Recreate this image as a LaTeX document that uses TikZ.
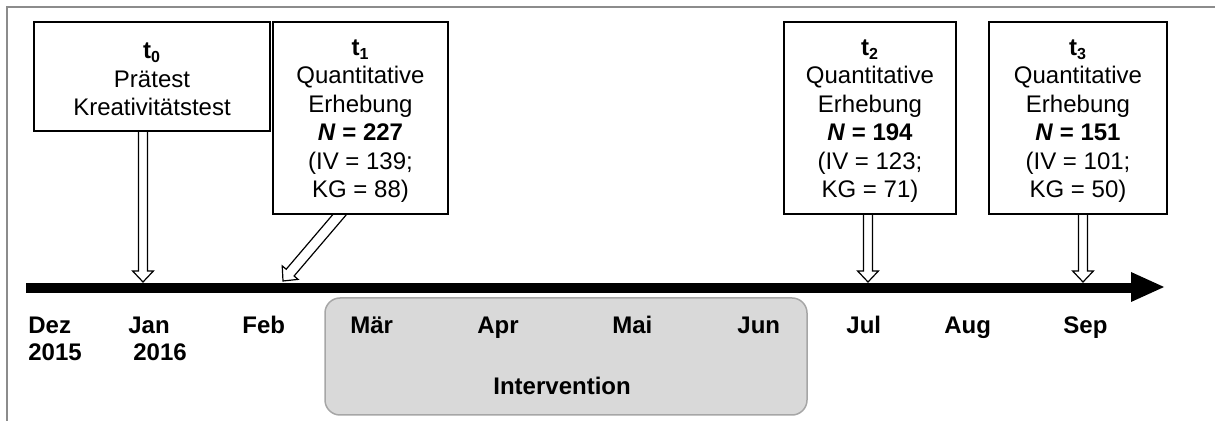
\documentclass[tikz,border=0pt]{standalone}
\usepackage{fontspec}
\setmainfont{Liberation Sans}
\usetikzlibrary{calc,backgrounds}
\definecolor{framegray}{HTML}{8C8C8C}
\definecolor{intfill}{HTML}{D9D9D9}
\definecolor{intdraw}{HTML}{A6A6A6}
\tikzset{
  box/.style={draw, line width=0.75pt, fill=white, align=center, inner sep=0pt,
    font=\fontsize{12}{14.2}\selectfont},
  mon/.style={anchor=base west, inner sep=0pt, font=\bfseries\fontsize{12}{14}\selectfont},
  hollow/.style={draw=black, fill=white, line width=0.6pt, line join=miter},
}
\newcommand\hollowarrow[3]{%
  \coordinate (ha-s) at (#1);
  \coordinate (ha-e) at (#2);
  \coordinate (ha-b) at ($(ha-e)!5.5pt!(ha-s)$);
  \draw[hollow] ($(ha-s)!#3!90:(ha-e)$) -- ($(ha-b)!#3!90:(ha-e)$)
    -- ($(ha-b)!5.2pt!90:(ha-e)$) -- (ha-e) -- ($(ha-b)!5.2pt!-90:(ha-e)$)
    -- ($(ha-b)!#3!-90:(ha-e)$) -- ($(ha-s)!#3!-90:(ha-e)$) -- cycle;
}
\newcommand\tstrut{\rule{0pt}{11pt}}
\begin{document}
\begin{tikzpicture}[x=0.5pt, y=-0.5pt]
\useasboundingbox (0,0) rectangle (1215,421);
% frame
\draw[framegray, line width=0.75pt] (7,421) -- (7,7) -- (1215,7);
% intervention block
\node[draw=intdraw, fill=intfill, line width=0.75pt, rounded corners=7.5pt,
  minimum width=241pt, minimum height=58.5pt, inner sep=0pt] (interv) at (566,356.5) {};
% boxes
\node[box, minimum width=118pt, minimum height=54.5pt] (t0) at (152,76.5)
  {\tstrut\textbf{t\textsubscript{0}}\\Prätest\\Kreativitätstest};
\node[box, minimum width=87.5pt, minimum height=96pt] (t1) at (360.5,118)
  {\tstrut\textbf{t\textsubscript{1}}\\Quantitative\\Erhebung\\\textbf{\textit{N} = 227}\\(IV = 139;\\KG = 88)};
\node[box, minimum width=86pt, minimum height=96pt] (t2) at (870,118)
  {\tstrut\textbf{t\textsubscript{2}}\\Quantitative\\Erhebung\\\textbf{\textit{N} = 194}\\(IV = 123;\\KG = 71)};
\node[box, minimum width=89pt, minimum height=96pt] (t3) at (1078,118)
  {\tstrut\textbf{t\textsubscript{3}}\\Quantitative\\Erhebung\\\textbf{\textit{N} = 151}\\(IV = 101;\\KG = 50)};
% timeline
\coordinate (tlstart) at (26,288);
\coordinate (tlend) at (1164,287);
\fill (tlstart) ++(0,-5) rectangle (1134,293);
\fill (1131,272) -- (tlend) -- (1131,302) -- cycle;
% arrow tips on the timeline
\coordinate (a0) at (143,282);
\coordinate (a1) at (283,281);
\coordinate (a2) at (868,282);
\coordinate (a3) at (1083,282);
\begin{scope}[on background layer]
  \hollowarrow{$(t0.south)+(-9,-6)$}{a0}{2.25pt}
  \hollowarrow{$(t1.south)+(-12.5,-10)$}{a1}{2.6pt}
  \hollowarrow{$(t2.south)+(-2,-6)$}{a2}{2.25pt}
  \hollowarrow{$(t3.south)+(5,-6)$}{a3}{2.25pt}
\end{scope}
% month labels
\node[mon] (dez) at (28,334) {Dez};
\node[mon] (y15) at (28,361) {2015};
\node[mon] (jan) at (128,334) {Jan};
\node[mon] (y16) at (133,361) {2016};
\node[mon] (feb) at (242,334) {Feb};
\node[mon] (mar) at (350,334) {Mär};
\node[mon] (apr) at (477,334) {Apr};
\node[mon] (mai) at (612,334) {Mai};
\node[mon] (jun) at (737,334) {Jun};
\node[mon] (jul) at (846,334) {Jul};
\node[mon] (aug) at (944,334) {Aug};
\node[mon] (sep) at (1063,334) {Sep};
\node[mon] (intlabel) at (493,395) {Intervention};
\end{tikzpicture}
\end{document}
